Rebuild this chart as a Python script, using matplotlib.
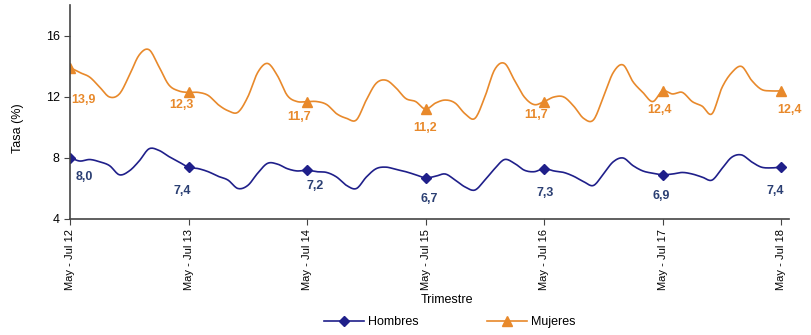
import matplotlib
matplotlib.use("Agg")
import matplotlib.pyplot as plt
import numpy as np
from matplotlib.lines import Line2D

# monthly rolling-quarter unemployment rates, May-Jul 12 .. May-Jul 18
hombres = [
    8.0, 7.8, 7.9, 7.75, 7.5, 6.9, 7.15, 7.8, 8.6, 8.5, 8.1, 7.75,
    7.4, 7.3, 7.1, 6.8, 6.55, 6.0, 6.2, 7.0, 7.65, 7.6, 7.3, 7.15,
    7.2, 7.1, 7.05, 6.75, 6.2, 6.0, 6.75, 7.3, 7.4, 7.25, 7.1, 6.9,
    6.7, 6.8, 6.95, 6.55, 6.1, 5.9, 6.55, 7.3, 7.9, 7.65, 7.2, 7.1,
    7.3, 7.15, 7.05, 6.8, 6.45, 6.2, 6.95, 7.75, 8.0, 7.5, 7.15, 7.0,
    6.9, 6.95, 7.05, 6.95, 6.75, 6.55, 7.3, 8.05, 8.2, 7.75, 7.4, 7.35,
    7.4,
]
mujeres = [
    13.9, 13.6, 13.3, 12.65, 12.0, 12.2, 13.4, 14.75, 15.1, 14.0, 12.8, 12.4,
    12.3, 12.3, 12.1, 11.5, 11.1, 11.0, 12.0, 13.6, 14.2, 13.4, 12.1, 11.7,
    11.7, 11.7, 11.5, 10.9, 10.6, 10.5, 11.8, 12.9, 13.1, 12.6, 11.9, 11.7,
    11.2, 11.6, 11.8, 11.6, 10.9, 10.6, 12.0, 13.8, 14.2, 13.1, 12.0, 11.5,
    11.7, 12.0, 12.0, 11.4, 10.6, 10.5, 12.0, 13.6, 14.1, 13.0, 12.3, 11.7,
    12.4, 12.2, 12.3, 11.7, 11.4, 10.9, 12.6, 13.6, 14.0, 13.1, 12.5, 12.4,
    12.4,
]
tick_labels = ["May - Jul 12", "May - Jul 13", "May - Jul 14", "May - Jul 15",
               "May - Jul 16", "May - Jul 17", "May - Jul 18"]

BLUE = "#1f1f8a"
BLUE_TXT = "#2b3f73"
ORANGE = "#e8892b"


def smooth(y, n=12):
    # catmull-rom, close to excel's smoothed line
    y = np.asarray(y, dtype=float)
    p = np.concatenate([[y[0]], y, [y[-1]]])
    xs, ys = [], []
    for i in range(len(y) - 1):
        p0, p1, p2, p3 = p[i], p[i + 1], p[i + 2], p[i + 3]
        t = np.linspace(0, 1, n, endpoint=False)
        ys.append(0.5 * (2 * p1 + (-p0 + p2) * t + (2 * p0 - 5 * p1 + 4 * p2 - p3) * t ** 2
                         + (-p0 + 3 * p1 - 3 * p2 + p3) * t ** 3))
        xs.append(i + t)
    xs.append([len(y) - 1])
    ys.append([y[-1]])
    return np.concatenate(xs), np.concatenate(ys)


plt.rcParams["font.family"] = ["Liberation Sans", "DejaVu Sans"]

fig = plt.figure(figsize=(8.12, 3.35), dpi=100)
ax = fig.add_axes([0.0862, 0.3463, 0.8855, 0.6373])

months = np.arange(len(hombres))
yearly = months[::12]

# label offsets in pixels (dx right, dy down) as placed in the original
off_h = [(14, 19), (-6, 24), (8, 16), (4, 21), (1, 24), (-1, 21), (-6, 24)]
off_m = [(13, 32), (-7, 13), (-8, 15), (0, 19), (-8, 13), (-3, 19), (8, 19)]

for vals, color, txt_color, marker, ms, offs in [
    (hombres, BLUE, BLUE_TXT, "D", 5, off_h),
    (mujeres, ORANGE, ORANGE, "^", 7, off_m),
]:
    sx, sy = smooth(vals)
    ax.plot(sx, sy, color=color, lw=1.2)
    yv = np.asarray(vals)[yearly]
    ax.plot(yearly, yv, ls="none", marker=marker, ms=ms, color=color)
    for (xi, yi), (dx, dy) in zip(zip(yearly, yv), offs):
        ax.annotate(f"{yi:.1f}".replace(".", ","), (xi, yi), xytext=(dx * 0.72, -dy * 0.72),
                    textcoords="offset points", ha="center", va="center",
                    fontsize=9, fontweight="bold", color=txt_color)

ax.set_xlim(0, 72.8)
ax.set_ylim(4, 18)
ax.set_yticks([4, 8, 12, 16])
ax.set_xticks(yearly)
ax.set_xticklabels(tick_labels, rotation=90, fontsize=8)
ax.tick_params(axis="y", labelsize=9, length=4, color="#444444")
ax.tick_params(axis="x", length=4, color="#444444")
for s in ["top", "right"]:
    ax.spines[s].set_visible(False)
for s in ["left", "bottom"]:
    ax.spines[s].set_color("#444444")
    ax.spines[s].set_linewidth(1.2)

fig.text(18 / 812, 0.618, "Tasa (%)", rotation=90, ha="center", va="center", fontsize=9)
fig.text(447 / 812, 0.104, "Trimestre", ha="center", va="center", fontsize=9)

handles = [
    Line2D([], [], color=BLUE, marker="D", ms=5, lw=1.2),
    Line2D([], [], color=ORANGE, marker="^", ms=7, lw=1.2),
]
fig.legend(handles, ["Hombres", "Mujeres"], loc="center", bbox_to_anchor=(450 / 812, 0.039),
           ncol=2, frameon=False, fontsize=9, handlelength=3.2, columnspacing=5.5,
           handletextpad=0.3)

fig.savefig("out.png", dpi=100)
